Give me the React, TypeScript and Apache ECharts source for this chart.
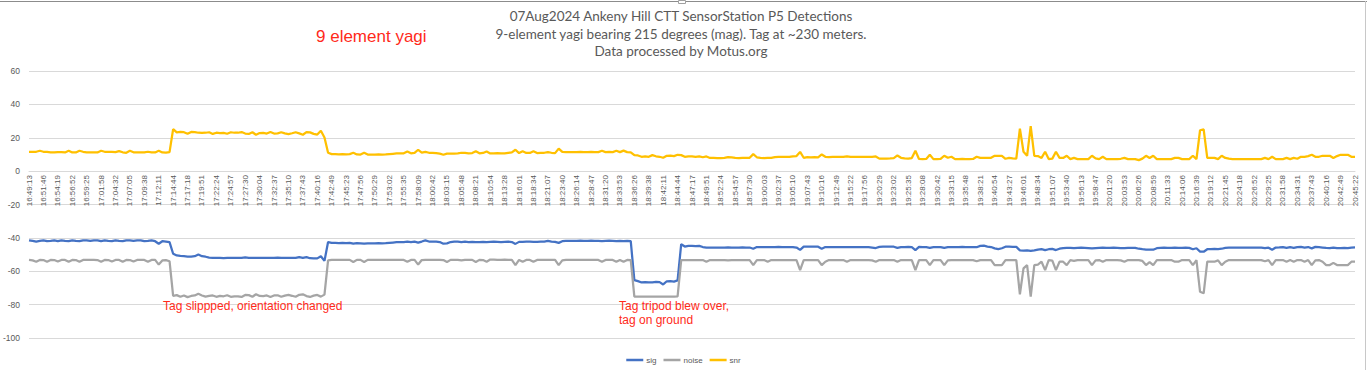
import React, { useEffect, useRef } from "react";
import * as echarts from "echarts";

const timeLabels = [
  "16:49:13", "16:51:46", "16:54:19", "16:56:52", "16:59:25", "17:01:58", "17:04:32", "17:07:05", "17:09:38", "17:12:11",
  "17:14:44", "17:17:18", "17:19:51", "17:22:24", "17:24:57", "17:27:30", "17:30:04", "17:32:37", "17:35:10", "17:37:43",
  "17:40:16", "17:42:49", "17:45:23", "17:47:56", "17:50:29", "17:53:02", "17:55:35", "17:58:09", "18:00:42", "18:03:15",
  "18:05:48", "18:08:21", "18:10:54", "18:13:28", "18:16:01", "18:18:34", "18:21:07", "18:23:40", "18:26:14", "18:28:47",
  "18:31:20", "18:33:53", "18:36:26", "18:39:38", "18:42:11", "18:44:44", "18:47:17", "18:49:51", "18:52:24", "18:54:57",
  "18:57:30", "19:00:03", "19:02:37", "19:05:10", "19:07:43", "19:10:16", "19:12:49", "19:15:22", "19:17:56", "19:20:29",
  "19:23:02", "19:25:35", "19:28:08", "19:30:42", "19:33:15", "19:35:48", "19:38:21", "19:40:54", "19:43:27", "19:46:01",
  "19:48:34", "19:51:07", "19:53:40", "19:56:13", "19:58:47", "20:01:20", "20:03:53", "20:06:26", "20:08:59", "20:11:33",
  "20:14:06", "20:16:39", "20:19:12", "20:21:45", "20:24:18", "20:26:52", "20:29:25", "20:31:58", "20:34:31", "20:37:43",
  "20:40:16", "20:42:49", "20:45:22",
];

const sig = [
  -41.5, -41.8, -42.2, -41.8, -41.5, -42, -41.8, -41.5,
  -42, -41.5, -41.8, -42, -41.5, -41.8, -42, -41.5,
  -41.5, -41.8, -41.5, -41.5, -42, -41.5, -41.8, -42,
  -41.5, -41.8, -42, -41.5, -41.5, -41.8, -41.5, -41.5,
  -42, -41.8, -41.5, -42, -43.5, -42, -42.2, -42.5,
  -49.5, -50.5, -50.8, -51, -51.2, -51.2, -51, -50,
  -51, -51.3, -51.8, -52, -52, -52, -52.1, -52,
  -52, -52, -52, -52, -51.7, -52, -52, -52,
  -52, -52, -52, -52, -52, -51.8, -52, -52,
  -52, -52, -52, -51.5, -52, -51.5, -52.2, -52.3,
  -52.3, -51, -53.8, -42.5, -43, -43, -43.2, -43,
  -43.2, -43, -43.5, -43.2, -43.3, -43.5, -43.3, -43.3,
  -43.3, -43.2, -43.3, -43.2, -43, -42.8, -42.6, -42.6,
  -42.5, -42.3, -42.5, -42.3, -42.8, -42.2, -41.5, -42.2,
  -42.3, -42.2, -42.5, -43.5, -43.3, -42.5, -42.3, -42.3,
  -42.5, -42.3, -42.5, -42.4, -42.6, -42.5, -42.4, -42.5,
  -42.4, -42.3, -42.4, -42.5, -42.4, -42.3, -42.5, -43.6,
  -42.4, -42.4, -42.3, -42.3, -42.4, -42.4, -42.3, -42.2,
  -41.8, -42.2, -42.4, -43, -42, -41.8, -41.8, -41.8,
  -41.8, -41.7, -41.8, -41.8, -41.7, -41.8, -41.8, -42,
  -41.8, -41.7, -41.8, -42, -41.8, -41.9, -41.8, -42,
  -65.3, -65.9, -66.7, -66.5, -66.7, -66.6, -66.3, -66.5,
  -67.9, -66, -65.9, -66.2, -65.5, -43.8, -45.2, -44.8,
  -44.8, -44.9, -44.8, -45.5, -45.8, -45.8, -45.8, -45.8,
  -45.8, -45.8, -45.7, -45.8, -45.8, -45.8, -45.7, -45.8,
  -45.8, -46.5, -45.5, -45.6, -45.6, -45.5, -45.6, -45.5,
  -45.4, -45.5, -45.5, -45.6, -45.5, -45.8, -47.2, -45.2,
  -45.2, -45.3, -45.2, -45.3, -46.5, -45.5, -45.6, -45.5,
  -45.5, -45.6, -45.5, -45.6, -45.5, -45.6, -45.5, -45.5,
  -45.5, -45.6, -45.8, -46.1, -45.4, -45.3, -45.2, -45.3,
  -45.3, -46, -45.6, -45.5, -45.4, -45.6, -47.3, -45.4,
  -45.5, -45.6, -46, -45.6, -45.5, -45.5, -46, -45.6,
  -45.5, -45.6, -45.5, -45.4, -45.5, -45.6, -45.5, -45.6,
  -44.8, -44.7, -45.2, -45.5, -46.3, -46.7, -46.2, -45.3,
  -45.3, -45.4, -45.4, -47.5, -47.6, -47.5, -47.8, -47.5,
  -47, -46.7, -47.3, -46.8, -46.6, -47.3, -46.5, -46.2,
  -46, -46, -46.2, -46, -45.9, -46, -46.1, -46.3,
  -46.1, -46, -45.9, -46, -46, -45.9, -46, -46.1,
  -46.2, -46, -46, -46, -46.5, -46.8, -47, -47,
  -47.1, -46.2, -46, -45.9, -46, -46, -45.9, -46,
  -46, -45.9, -46, -46.8, -46.2, -48.2, -48.3, -46.8,
  -46.7, -46.6, -46.7, -46.5, -46, -45.9, -45.9, -45.9,
  -45.9, -45.9, -45.9, -45.9, -45.9, -45.9, -45.9, -46.2,
  -45.9, -47.1, -45.8, -45.7, -45.5, -46, -45.6, -46,
  -45.5, -45.4, -45.8, -45.5, -46.3, -45.4, -45.6, -45.8,
  -46, -46.1, -45.8, -46.2, -46.1, -46, -46.2, -45.8,
  -45.7,
];

const noise = [
  -53.2, -53.5, -54.3, -53.2, -53.3, -54.3, -53.2, -53.3,
  -54.2, -53.2, -53.2, -54.3, -53.2, -53.3, -54.3, -53.2,
  -53.2, -53.2, -53.2, -53.3, -54.3, -53.2, -53.3, -54.2,
  -53.2, -53.2, -54.3, -53.2, -53.3, -54.2, -53.2, -53.2,
  -53.2, -54.3, -53.2, -53.2, -56, -53.5, -53.3, -54,
  -74.8, -74.3, -75.3, -74.5, -75.5, -74.8, -74.5, -73.5,
  -74.5, -75.2, -74.8, -74.5, -75.3, -74.8, -75, -74.4,
  -75.3, -75, -75, -75.4, -74.2, -74.3, -75.3, -73.8,
  -74.8, -74.9, -74.5, -75.4, -74.5, -74.4, -75.3, -74.6,
  -74.2, -74.7, -75.3, -74.1, -73.8, -74.9, -75.4, -74.6,
  -74.2, -75.2, -74, -53.5, -53.2, -53.2, -53.2, -53.2,
  -53.2, -53.2, -54.5, -53.2, -53.2, -54.5, -53.2, -53.2,
  -53.2, -53.2, -53.2, -53.2, -53.2, -53.2, -53.2, -53.2,
  -53.2, -54.3, -53.2, -53.2, -56, -53.3, -53.2, -53.2,
  -53.2, -53.2, -53.2, -53.3, -54.5, -53.2, -53.2, -53.2,
  -53.5, -53.2, -53.2, -53.2, -54.5, -53.2, -53.3, -54.3,
  -53, -53, -53.2, -53.2, -53, -53.2, -53.2, -56.3,
  -53.2, -54.3, -53.2, -53.2, -54.3, -53.2, -53.2, -53.2,
  -53.2, -53.2, -53.2, -56.3, -53.5, -53.2, -53.2, -53.2,
  -53.2, -53.2, -53.2, -53.2, -53.2, -53.2, -53.2, -54.3,
  -53.2, -53.2, -53.2, -54.3, -53.2, -54.3, -53.2, -53.3,
  -75.2, -75.2, -75.2, -75.2, -75.2, -75.2, -75.2, -75.2,
  -75.2, -75.2, -75.2, -75.2, -75, -53.3, -53.3, -53.3,
  -53.3, -53.3, -53.3, -53.3, -54.3, -53.3, -53.3, -53.3,
  -53.3, -53.3, -53.5, -53.3, -53.3, -53.3, -53.3, -53.3,
  -53.3, -56.3, -53.3, -53.3, -53.3, -54.3, -53.3, -53.3,
  -53.3, -53.3, -53.3, -53.3, -53.3, -53.3, -59.3, -53.3,
  -53.3, -53.3, -53.3, -53.3, -56.3, -54.3, -53.3, -53.3,
  -53.3, -53.3, -53.3, -54.3, -53.3, -53.3, -53.3, -53.3,
  -53.3, -53.3, -53.5, -54.3, -53.3, -53.3, -53.3, -53.3,
  -53.3, -54.3, -53.3, -53.3, -53.3, -53.3, -59.3, -53.3,
  -53.3, -53.3, -56.3, -53.3, -53.3, -53.3, -56.3, -53.5,
  -53.3, -53.3, -53.3, -53.3, -53.3, -53.3, -53.3, -54,
  -53.3, -53.3, -53.3, -53.3, -56.3, -56.3, -56.3, -53.3,
  -53.3, -53.3, -53.3, -73.8, -58.3, -56.3, -75.2, -56.3,
  -56, -54.3, -59.3, -53.3, -53.6, -59.3, -54.3, -54.3,
  -56.3, -53.3, -53.8, -53.3, -53.3, -53.3, -53.3, -56.3,
  -53.5, -53.3, -54.3, -53.3, -53.3, -53.3, -53.3, -53.5,
  -54.3, -53.3, -53.3, -53.3, -53.3, -53.8, -56.3, -54.5,
  -56.3, -53.3, -53.3, -53.3, -53.3, -53.3, -54.3, -54.3,
  -53.3, -53.3, -53.3, -56.3, -53.3, -72.3, -73.2, -54.3,
  -54.3, -54.3, -53.5, -56.3, -54.3, -53.3, -53.3, -53.3,
  -53.3, -53.3, -53.3, -53.3, -53.3, -53.3, -53.3, -54,
  -53.3, -56.3, -53.3, -53.3, -53.3, -54.3, -53.3, -54.3,
  -53.3, -53.3, -54.3, -53.3, -56.3, -53.5, -53.3, -54.3,
  -56.3, -56.3, -55, -56.3, -56.3, -56.3, -56.3, -54.3,
  -54.3,
];

const snr = [
  11.5, 11.5, 11.6, 12.2, 11.6, 11.5, 11.2, 11.2,
  11.4, 11.4, 11.2, 12.2, 11.2, 11.2, 12.2, 11.6,
  11.3, 11.2, 11.2, 11.2, 12.2, 11.6, 11.6, 11.5,
  11.4, 12, 11.3, 11, 12.2, 11.3, 11.2, 11.2,
  11.2, 11.6, 11.2, 11.2, 12.2, 11.2, 11.1, 11.4,
  25.2, 23.2, 23.5, 23.3, 22.4, 23.5, 23.4, 23,
  22.9, 23, 23.3, 22.3, 23, 22.8, 22.9, 22.4,
  23.3, 23, 23, 23.4, 22.5, 22.3, 23.3, 21.8,
  22.8, 22.9, 22.5, 23.4, 22.5, 22.6, 23.3, 22.6,
  22.2, 22.7, 23.3, 22.6, 21.8, 23.4, 23.2, 22.3,
  21.9, 24.2, 20.2, 11, 10.2, 10.2, 10, 10.2,
  10, 10.2, 11, 10, 9.9, 11, 9.9, 9.9,
  9.9, 10, 9.9, 10, 10.2, 10.4, 10.6, 10.6,
  10.7, 11.8, 10.7, 10.9, 12.8, 11.1, 11.5, 11,
  10.9, 10.8, 10.5, 9.8, 10.5, 10.5, 10.5, 10.6,
  11, 10.9, 10.7, 10.8, 11.9, 10.7, 10.9, 11.8,
  10.6, 10.7, 10.8, 10.7, 10.6, 10.9, 11.2, 12.8,
  10.8, 11.9, 10.9, 10.9, 11.9, 10.8, 10.9, 11,
  11.4, 11, 10.8, 13.5, 11.5, 11.4, 11.4, 11.4,
  11.4, 11.5, 11.4, 11.4, 11.5, 11.4, 11.4, 12.2,
  11.4, 11.5, 11.4, 12.2, 11.4, 12.3, 11.4, 11.3,
  9.6, 9.4, 8.6, 8.8, 8.6, 9.6, 8.9, 8.6,
  8, 9.2, 9.3, 9, 9.8, 9.6, 8.6, 8.8,
  8.8, 8.6, 8.8, 8.3, 8.8, 7.9, 7.9, 7.8,
  7.8, 7.9, 8.4, 8.2, 7.9, 7.8, 8, 7.9,
  8, 10.2, 8.3, 8, 7.8, 8, 7.9, 8.4,
  8.5, 8.6, 8.5, 8.5, 8.8, 9, 11.5, 8,
  8.4, 8.3, 8.4, 8.3, 10, 8.6, 8.4, 8.5,
  8.5, 8.5, 8.5, 8.9, 8.5, 8.5, 8.5, 8.5,
  8.5, 8.5, 8.6, 8.8, 7.5, 7.5, 7.5, 7.6,
  7.8, 9.4, 8, 7.6, 7.5, 7.8, 12.2, 7.3,
  7.2, 7.3, 9.8, 7.2, 7.2, 7.3, 9.2, 8,
  8.6, 7.2, 7.2, 7.3, 7.2, 7.2, 7.3, 8.6,
  7.9, 7.9, 7.9, 8, 9.2, 9.2, 9.2, 7.4,
  7.9, 7.6, 7.5, 25.5, 11.6, 9.2, 27, 9.2,
  9, 7.9, 11.6, 7.2, 7.5, 11.6, 7.9, 7.9,
  9.2, 7.2, 7.9, 7.2, 7.2, 7.2, 7.2, 9.2,
  7.6, 7.2, 8.6, 7.2, 7.2, 7.2, 7.2, 7.4,
  7.9, 7.2, 7.2, 7.2, 6.6, 7.5, 9.2, 7.9,
  9.2, 7.2, 7.2, 7.2, 7.2, 7.2, 7.9, 7.9,
  7.2, 7.2, 7.2, 9.2, 7.2, 24.5, 25, 7.9,
  7.9, 7.9, 7.2, 9.2, 7.9, 7.5, 7.2, 7.2,
  7.2, 7.2, 7.2, 7.2, 7.2, 7.2, 7.2, 7.9,
  7.2, 8.6, 7.2, 7.2, 7.2, 7.9, 7.2, 7.9,
  7.4, 8.6, 8.6, 9, 9.8, 8.6, 8.6, 9.2,
  9.2, 9.2, 7.9, 9, 9.8, 9.8, 9.8, 8.6,
  8.6,
];

const titleLines = [
  "07Aug2024 Ankeny Hill CTT SensorStation P5 Detections",
  "9-element yagi bearing 215 degrees (mag). Tag at ~230 meters.",
  "Data processed by Motus.org",
];

const LABEL_STEP = 4;
const Y_MIN = -100;
const Y_MAX = 60;
const Y_STEP = 20;

export default function App() {
  const ref = useRef<HTMLDivElement>(null);

  useEffect(() => {
    if (!ref.current) return;
    const chart = echarts.init(ref.current, null, { renderer: "svg" });
    const categories = sig.map((_, i) => String(i));
    const red = "#FF2A1A";
    const gray = "#595959";
    const gridTop = 71;
    const gridBottomY = 338;
    const zeroOffset = -((gridBottomY - gridTop) * (0 - Y_MIN)) / (Y_MAX - Y_MIN);

    const note = (text: string, x: number, y: number) => ({
      type: "text",
      x,
      y,
      z: 100,
      style: {
        text,
        textAlign: "left",
        textVerticalAlign: "middle",
        fontSize: 12,
        fontFamily: "Liberation Sans",
        fill: red,
      },
    });

    chart.setOption({
      animation: false,
      backgroundColor: "#ffffff",
      textStyle: { fontFamily: "Liberation Sans" },
      grid: { left: 26, right: 12, top: gridTop, bottom: 370 - gridBottomY, containLabel: false },
      legend: {
        top: 351,
        left: "center",
        icon: "rect",
        itemWidth: 17,
        itemHeight: 2.5,
        itemGap: 7,
        textStyle: { fontSize: 8, color: gray, fontFamily: "Liberation Sans", padding: [0, 0, 0, -2] },
        data: ["sig", "noise", "snr"],
      },
      xAxis: {
        type: "category",
        data: categories,
        boundaryGap: false,
        position: "bottom",
        offset: zeroOffset,
        axisLine: { onZero: false, lineStyle: { color: "#D9D9D9", width: 1 } },
        axisTick: { show: false },
        splitLine: { show: false },
        axisLabel: {
          interval: LABEL_STEP - 1,
          rotate: 90,
          fontSize: 8,
          color: gray,
          margin: 4,
          formatter: (_v: string, i: number) =>
            i % LABEL_STEP === 0 ? timeLabels[i / LABEL_STEP] ?? "" : "",
        },
      },
      yAxis: {
        type: "value",
        min: Y_MIN,
        max: Y_MAX,
        interval: Y_STEP,
        axisLine: { show: false },
        axisTick: { show: false },
        axisLabel: { fontSize: 8.5, color: gray, margin: 9 },
        splitLine: { lineStyle: { color: "#D9D9D9", width: 1 } },
      },
      series: [
        {
          name: "sig",
          type: "line",
          data: sig,
          showSymbol: false,
          symbol: "none",
          color: "#4472C4",
          lineStyle: { width: 2.25, color: "#4472C4" },
          z: 3,
        },
        {
          name: "noise",
          type: "line",
          data: noise,
          showSymbol: false,
          symbol: "none",
          color: "#A5A5A5",
          lineStyle: { width: 2.25, color: "#A5A5A5" },
          z: 4,
        },
        {
          name: "snr",
          type: "line",
          data: snr,
          showSymbol: false,
          symbol: "none",
          color: "#FFC000",
          lineStyle: { width: 2.25, color: "#FFC000" },
          z: 5,
        },
      ],
      graphic: [
        { type: "line", shape: { x1: 0, y1: 1.5, x2: 1367, y2: 1.5 }, style: { stroke: "#8C8C8C", lineWidth: 1 } },
        { type: "line", shape: { x1: 1365.5, y1: 1, x2: 1365.5, y2: 370 }, style: { stroke: "#C8C8C8", lineWidth: 1 } },
        { type: "rect", shape: { x: 678.5, y: 0.5, width: 7, height: 3 }, style: { fill: "#ffffff", stroke: "#A0A0A0", lineWidth: 1 } },
        ...titleLines.map((t, k) => ({
          type: "text",
          x: 681,
          y: 16 + k * 17.7,
          style: {
            text: t,
            textAlign: "center",
            textVerticalAlign: "middle",
            fontSize: 13.5,
            fontFamily: "Lato",
            fill: gray,
          },
        })),
        {
          type: "text",
          x: 316,
          y: 36,
          style: {
            text: "9 element yagi",
            textAlign: "left",
            textVerticalAlign: "middle",
            fontSize: 17,
            fontFamily: "Liberation Sans",
            fill: red,
          },
        },
        note("Tag slippped, orientation changed", 163, 306),
        note("Tag tripod blew over,", 619, 306),
        note("tag on ground", 619, 320),
      ],
    });

    return () => chart.dispose();
  }, []);

  return (
    <div
      ref={ref}
      style={{ position: "fixed", left: 0, top: 0, width: 1367, height: 370, background: "#fff" }}
    />
  );
}
